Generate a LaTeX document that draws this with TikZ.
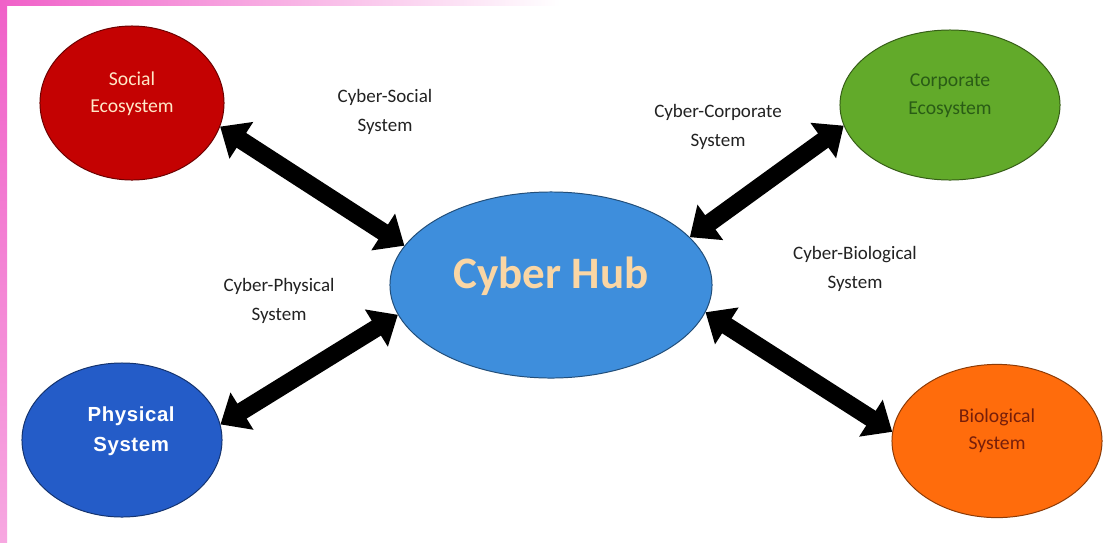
\documentclass[tikz,border=0pt]{standalone}
\usepackage{fontspec}
\setmainfont{Carlito}
\newfontfamily\arialfont[LetterSpace=3]{Liberation Sans}
\usetikzlibrary{shapes.geometric,arrows.meta}

\definecolor{socialred}{RGB}{196,2,2}
\definecolor{corpgreen}{RGB}{98,170,42}
\definecolor{hubblue}{RGB}{62,142,220}
\definecolor{physblue}{RGB}{36,92,200}
\definecolor{bioorange}{RGB}{255,108,12}
\definecolor{edgepink}{RGB}{240,96,200}
\definecolor{linkgray}{RGB}{34,34,34}
\definecolor{creamtext}{RGB}{255,232,200}
\definecolor{peachtext}{RGB}{250,214,164}
\definecolor{corptext}{RGB}{42,92,22}
\definecolor{biotext}{RGB}{118,30,10}

\tikzset{
    sphere/.style={ellipse, draw=#1!55!black, fill=#1, line width=0.7pt, inner sep=0pt},
    spheretext/.style={align=center, yshift=6.5pt},
    link/.style={line width=12.5pt, {Triangle[length=18pt,width=30pt]}-{Triangle[length=18pt,width=30pt]}},
    linktext/.style={text=linkgray, align=center, font=\fontsize{13.5}{21}\selectfont}
}

\begin{document}
\begin{tikzpicture}[x=0.025cm, y=-0.025cm]
    \useasboundingbox (0,0) rectangle (1120,542);
    \fill[white] (0,0) rectangle (1120,542);
    % pink frame on the left and top
    \shade[top color=edgepink, bottom color=edgepink!55] (0,0) rectangle (7,542);
    \shade[left color=edgepink, right color=white] (0,0) rectangle (560,5);

    % Systems round the hub
    \node[sphere=socialred, minimum width=4.6cm, minimum height=3.85cm,
          label={[spheretext, text=creamtext, font=\fontsize{14}{19.5}\selectfont]center:Social\\Ecosystem}] (social) at (132,103) {};
    \node[sphere=corpgreen, minimum width=5.5cm, minimum height=3.75cm,
          label={[spheretext, text=corptext, font=\fontsize{14}{20}\selectfont]center:Corporate\\Ecosystem}] (corporate) at (950,105) {};
    \node[sphere=hubblue, minimum width=8.05cm, minimum height=4.65cm,
          label={[spheretext, text=peachtext, font=\fontsize{32}{34}\selectfont\bfseries]center:Cyber Hub}] (hub) at (551,285) {};
    \node[sphere=physblue, minimum width=5cm, minimum height=3.85cm,
          label={[spheretext, xshift=6.5pt, text=white, font=\arialfont\fontsize{14.5}{21.5}\selectfont\bfseries]center:Physical\\System}] (physical) at (122,440) {};
    \node[sphere=bioorange, minimum width=5.25cm, minimum height=3.83cm,
          label={[spheretext, yshift=1pt, text=biotext, font=\fontsize{14}{19}\selectfont]center:Biological\\System}] (biological) at (997,441) {};

    % Links
    \draw[link] (social.-15) -- (hub.165);
    \draw[link] (corporate.-169) -- (hub.19);
    \draw[link] (physical.9) -- (hub.-169);
    \draw[link] (biological.175) -- (hub.-10);

    \node[linktext] (cs) at (385,112) {Cyber-Social\\System};
    \node[linktext] (cc) at (718,127) {Cyber-Corporate\\System};
    \node[linktext] (cp) at (279,301) {Cyber-Physical\\System};
    \node[linktext] (cb) at (855,269) {Cyber-Biological\\System};
\end{tikzpicture}
\end{document}
